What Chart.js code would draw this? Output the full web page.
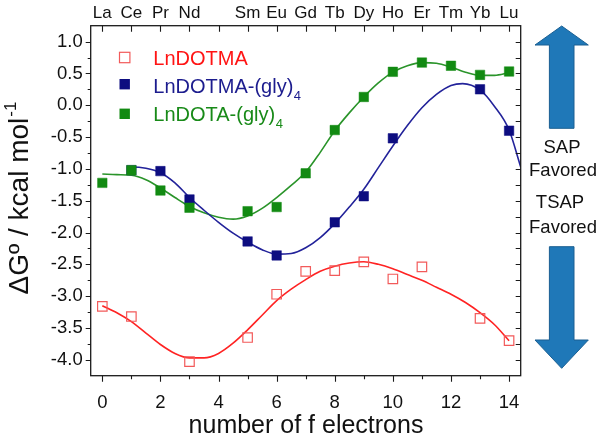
<!DOCTYPE html>
<html>
<head>
<meta charset="utf-8">
<script src="https://cdn.jsdelivr.net/npm/chart.js@4/dist/chart.umd.min.js"></script>
<style>
  html, body { margin: 0; padding: 0; background: #fff; }
  #wrap { width: 600px; height: 441px; }
</style>
</head>
<body>
<div id="wrap"><canvas id="c" width="600" height="441"></canvas></div>
<script>
// ---- tick labels / categories ----
const elements = ['La','Ce','Pr','Nd','','Sm','Eu','Gd','Tb','Dy','Ho','Er','Tm','Yb','Lu'];
const xTickValues = [0, 2, 4, 6, 8, 10, 12, 14];
const yTickValues = [-4.0, -3.5, -3.0, -2.5, -2.0, -1.5, -1.0, -0.5, 0.0, 0.5, 1.0];

// ---- measured points ----
const redX   = [0, 1, 3, 5, 6, 7, 8, 9, 10, 11, 13, 14];
const redY   = [-3.16, -3.32, -4.03, -3.65, -2.97, -2.61, -2.60, -2.46, -2.73, -2.54, -3.35, -3.70];
const blueX  = [1, 2, 3, 5, 6, 8, 9, 10, 13, 14];
const blueY  = [-1.02, -1.035, -1.48, -2.14, -2.36, -1.84, -1.43, -0.52, 0.25, -0.40];
const greenX = [0, 1, 2, 3, 5, 6, 7, 8, 9, 10, 11, 12, 13, 14];
const greenY = [-1.22, -1.02, -1.34, -1.61, -1.665, -1.60, -1.07, -0.39, 0.13, 0.525, 0.67, 0.62, 0.477, 0.53];

// ---- fitted curves ----
const redFitX = [0,0.5,1,1.5,2,2.5,3,3.5,4,4.5,5,5.5,6,6.5,7,7.5,8,8.5,9,9.5,10,10.5,11,11.5,12,12.5,13,13.5,14];
const redFitY = [-3.15,-3.26,-3.40,-3.58,-3.76,-3.90,-3.97,-3.97,-3.90,-3.74,-3.53,-3.30,-3.07,-2.89,-2.74,-2.61,-2.53,-2.48,-2.46,-2.50,-2.57,-2.66,-2.75,-2.86,-2.97,-3.10,-3.26,-3.45,-3.70];
const blueFitX = [0.85,1,1.5,2,2.5,3,3.5,4,4.5,5,5.5,6,6.5,7,7.5,8,8.5,9,9.5,10,10.5,11,11.5,12,12.4,13,13.5,14,14.4];
const blueFitY = [-0.97,-0.97,-0.99,-1.06,-1.22,-1.45,-1.65,-1.84,-2.01,-2.15,-2.27,-2.34,-2.33,-2.24,-2.08,-1.86,-1.60,-1.32,-0.98,-0.64,-0.32,-0.04,0.17,0.31,0.34,0.24,-0.02,-0.39,-0.97];
const greenFitX = [0,0.5,1,1.5,2,2.5,3,3.5,4,4.5,5,5.5,6,6.5,7,7.5,8,8.5,9,9.5,10,10.5,11,11.5,12,12.5,13,13.5,14];
const greenFitY = [-1.08,-1.09,-1.10,-1.17,-1.30,-1.45,-1.59,-1.69,-1.76,-1.79,-1.74,-1.62,-1.45,-1.26,-1.05,-0.74,-0.40,-0.12,0.13,0.35,0.52,0.62,0.67,0.66,0.60,0.52,0.47,0.47,0.51];

const pts = (xs, ys) => xs.map((v, i) => ({ x: v, y: ys[i] }));

const RED = '#ff2323', RED_PT = '#f25a5a';
const BLUE = '#23239a', BLUE_PT = '#0d0d80';
const GREEN = '#2a942a', GREEN_PT = '#128a12';
const FONT = '"Liberation Sans", Arial, sans-serif';

const CA = { left: 90.7, right: 520.7, top: 25.7, bottom: 375.7 };

const decor = {
  id: 'decor',
  afterDraw(chart) {
    const { ctx, chartArea: a, scales } = chart;
    const x = scales.x, y = scales.y;
    ctx.save();
    // axis box
    ctx.strokeStyle = '#1a1a1a';
    ctx.lineWidth = 1.3;
    ctx.strokeRect(a.left, a.top, a.right - a.left, a.bottom - a.top);
    ctx.lineWidth = 1.1;
    ctx.beginPath();
    for (let k = -16; k <= 4; k++) {
      const v = k * 0.25;
      const py = Math.round(y.getPixelForValue(v)) + 0.5;
      const major = (k % 2 === 0);
      ctx.moveTo(a.left, py); ctx.lineTo(a.left - (major ? 5 : 3), py);
      ctx.moveTo(a.right, py); ctx.lineTo(a.right - 5, py);
    }
    for (let i = 0; i <= 14; i++) {
      const px = Math.round(x.getPixelForValue(i)) + 0.5;
      ctx.moveTo(px, a.bottom); ctx.lineTo(px, a.bottom + (i % 2 === 0 ? 6 : 3.5));
      ctx.moveTo(px, a.top); ctx.lineTo(px, a.top + 6);
    }
    ctx.stroke();

    // y-axis title
    ctx.save();
    ctx.translate(28, 198);
    ctx.rotate(-Math.PI / 2);
    ctx.fillStyle = '#111';
    ctx.textBaseline = 'alphabetic';
    ctx.textAlign = 'left';
    ctx.font = '28px ' + FONT;
    const main = 'ΔGº / kcal mol';
    const w1 = ctx.measureText(main).width;
    ctx.font = '17px ' + FONT;
    const w2 = ctx.measureText('-1').width;
    const start = -(w1 + w2 + 1) / 2;
    ctx.font = '28px ' + FONT;
    ctx.fillText(main, start, 0);
    ctx.font = '17px ' + FONT;
    ctx.fillText('-1', start + w1 + 1, -12);
    ctx.restore();

    // legend
    const lx = 124.7, side = 10.4;
    ctx.lineWidth = 1.2;
    ctx.strokeStyle = RED_PT;
    ctx.strokeRect(lx - side / 2, 57.5 - side / 2, side, side);
    ctx.fillStyle = BLUE_PT;
    ctx.fillRect(lx - side / 2, 84.2 - side / 2, side, side);
    ctx.fillStyle = GREEN_PT;
    ctx.fillRect(lx - side / 2, 113.8 - side / 2, side, side);
    ctx.textAlign = 'left';
    ctx.textBaseline = 'alphabetic';
    const tx = 153.3;
    ctx.font = '20px ' + FONT;
    ctx.fillStyle = '#ff1414';
    ctx.fillText('LnDOTMA', tx, 65);
    ctx.fillStyle = '#1c1c8e';
    let s = 'LnDOTMA-(gly)';
    ctx.fillText(s, tx, 93.3);
    let ws = ctx.measureText(s).width;
    ctx.font = '13px ' + FONT;
    ctx.fillText('4', tx + ws + 0.5, 100);
    ctx.font = '20px ' + FONT;
    ctx.fillStyle = '#188a18';
    s = 'LnDOTA-(gly)';
    ctx.fillText(s, tx, 120.7);
    ws = ctx.measureText(s).width;
    ctx.font = '13px ' + FONT;
    ctx.fillText('4', tx + ws + 0.5, 128);

    // arrows
    ctx.fillStyle = '#1f78b8';
    ctx.strokeStyle = '#1a5f92';
    ctx.lineWidth = 1;
    const cx = 561.7;
    ctx.beginPath();
    ctx.moveTo(cx, 26);
    ctx.lineTo(588.3, 45); ctx.lineTo(574, 45); ctx.lineTo(574, 128.3);
    ctx.lineTo(549.4, 128.3); ctx.lineTo(549.4, 45); ctx.lineTo(535, 45);
    ctx.closePath(); ctx.fill(); ctx.stroke();
    ctx.beginPath();
    ctx.moveTo(cx, 368.3);
    ctx.lineTo(588.3, 340); ctx.lineTo(574, 340); ctx.lineTo(574, 246.7);
    ctx.lineTo(549.4, 246.7); ctx.lineTo(549.4, 340); ctx.lineTo(535, 340);
    ctx.closePath(); ctx.fill(); ctx.stroke();

    // side text
    ctx.fillStyle = '#111';
    ctx.textAlign = 'center';
    ctx.font = '18.5px ' + FONT;
    ctx.fillText('SAP', 562, 152.7);
    ctx.fillText('Favored', 563, 176);
    ctx.fillText('TSAP', 560, 208.3);
    ctx.fillText('Favored', 563, 232.7);

    // x title
    ctx.font = '25px ' + FONT;
    ctx.textAlign = 'center';
    ctx.fillText('number of f electrons', 306, 433);
    ctx.restore();
  }
};

new Chart(document.getElementById('c'), {
  type: 'scatter',
  data: {
    datasets: [
      { label: 'LnDOTMA', data: pts(redX, redY), pointStyle: 'rect', pointRadius: 6.7,
        borderColor: RED_PT, backgroundColor: 'rgba(255,255,255,0)', borderWidth: 1.2, showLine: false, order: 1 },
      { label: 'LnDOTMA-(gly)4', data: pts(blueX, blueY), pointStyle: 'rect', pointRadius: 6.7,
        borderColor: BLUE_PT, backgroundColor: BLUE_PT, borderWidth: 0.5, showLine: false, order: 2 },
      { label: 'LnDOTA-(gly)4', data: pts(greenX, greenY), pointStyle: 'rect', pointRadius: 6.7,
        borderColor: GREEN_PT, backgroundColor: GREEN_PT, borderWidth: 0.5, showLine: false, order: 0 },
      { label: 'fit1', data: pts(redFitX, redFitY), showLine: true, pointRadius: 0, borderColor: RED,
        borderWidth: 1.6, tension: 0.4, cubicInterpolationMode: 'monotone', fill: false, order: 5 },
      { label: 'fit2', data: pts(blueFitX, blueFitY), showLine: true, pointRadius: 0, borderColor: BLUE,
        borderWidth: 1.6, tension: 0.4, cubicInterpolationMode: 'monotone', fill: false, order: 5 },
      { label: 'fit3', data: pts(greenFitX, greenFitY), showLine: true, pointRadius: 0, borderColor: GREEN,
        borderWidth: 1.6, tension: 0.4, cubicInterpolationMode: 'monotone', fill: false, order: 5 }
    ]
  },
  options: {
    responsive: false,
    animation: false,
    devicePixelRatio: 1,
    layout: { padding: { left: 0, right: 600 - CA.right, top: 0, bottom: 0 } },
    plugins: { legend: { display: false }, tooltip: { enabled: false } },
    scales: {
      x: {
        type: 'linear', position: 'bottom', min: -0.4, max: 14.4,
        afterBuildTicks: s => { s.ticks = xTickValues.map(v => ({ value: v })); },
        afterFit: s => { s.height = 441 - CA.bottom; },
        grid: { display: false, drawTicks: false },
        border: { display: false },
        ticks: { font: { family: FONT, size: 18.5 }, color: '#111', padding: 16, maxRotation: 0,
                 callback: v => String(v) }
      },
      x2: {
        type: 'linear', position: 'top', min: -0.4, max: 14.4,
        afterBuildTicks: s => { s.ticks = elements.map((e, i) => ({ value: i })).filter((t, i) => elements[i] !== ''); },
        afterFit: s => { s.height = CA.top; },
        grid: { display: false, drawTicks: false },
        border: { display: false },
        ticks: { font: { family: FONT, size: 17 }, color: '#111', padding: 2, maxRotation: 0, autoSkip: false,
                 callback: v => elements[Math.round(v)] }
      },
      y: {
        type: 'linear', position: 'left', min: -4.25, max: 1.25,
        afterBuildTicks: s => { s.ticks = yTickValues.map(v => ({ value: v })); },
        afterFit: s => { s.width = CA.left; },
        grid: { display: false, drawTicks: false },
        border: { display: false },
        ticks: { font: { family: FONT, size: 18.5 }, color: '#111', padding: 8,
                 callback: v => v.toFixed(1) }
      }
    }
  },
  plugins: [decor]
});
</script>
</body>
</html>
